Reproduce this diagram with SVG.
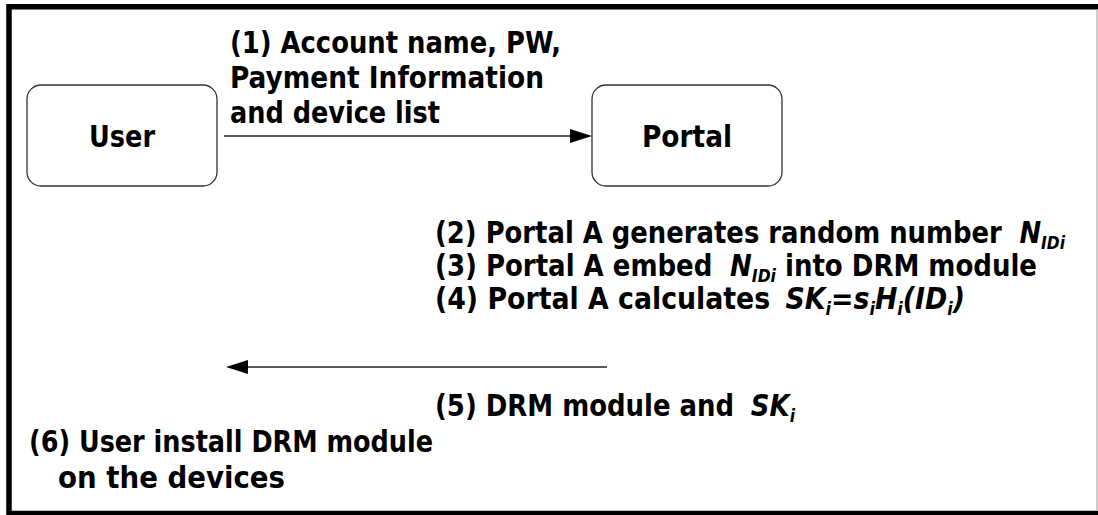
<svg xmlns="http://www.w3.org/2000/svg" width="1098" height="515" viewBox="0 0 1098 515">
  <defs>
    <style>
      .t { font-family: "DejaVu Sans", "Liberation Sans", sans-serif; font-weight: bold; font-size: 30px; font-stretch: condensed; fill: #000; }
      .m { font-style: italic; }
      .sub { font-style: italic; font-size: 18px; }
      .box { fill: #fff; stroke: #333; stroke-width: 1.3; }
      .flow { fill: none; stroke: #222; stroke-width: 1.3; marker-end: url(#head); }
    </style>
    <marker id="head" markerUnits="userSpaceOnUse" markerWidth="22" markerHeight="14" refX="2" refY="7" orient="auto">
      <path d="M0,0 L22,7 L0,14 Z" fill="#000"/>
    </marker>
  </defs>

  <!-- page frame -->
  <rect x="0" y="0" width="1098" height="515" fill="#fff"/>
  <rect x="9" y="6.75" width="1200" height="506.75" fill="none" stroke="#000" stroke-width="5.5"/>
  <line x1="1097" y1="9.5" x2="1097" y2="511" stroke="#bdbdbd" stroke-width="1.5"/>

  <!-- nodes -->
  <g id="user">
    <rect class="box" x="27" y="85" width="190" height="101" rx="14"/>
    <text class="t" x="122" y="147" text-anchor="middle" textLength="66" lengthAdjust="spacingAndGlyphs">User</text>
  </g>
  <g id="portal">
    <rect class="box" x="592" y="85" width="190" height="101" rx="14"/>
    <text class="t" x="687" y="147" text-anchor="middle" textLength="90" lengthAdjust="spacingAndGlyphs">Portal</text>
  </g>

  <!-- connectors -->
  <g id="connectors">
    <line class="flow" x1="224" y1="136" x2="572" y2="136"/>
    <line class="flow" x1="607" y1="367" x2="246" y2="367"/>
  </g>

  <!-- step labels -->
  <g id="step1">
    <text class="t" x="230" y="53" textLength="331" lengthAdjust="spacingAndGlyphs">(1) Account name, PW,</text>
    <text class="t" x="230" y="88" textLength="314" lengthAdjust="spacingAndGlyphs">Payment Information</text>
    <text class="t" x="230" y="123" textLength="210" lengthAdjust="spacingAndGlyphs">and device list</text>
  </g>
  <g id="steps2to4">
    <text class="t" x="435" y="243" textLength="630" lengthAdjust="spacingAndGlyphs">(2) Portal A generates random number <tspan class="m" dx="9">N</tspan><tspan class="sub" dy="6">IDi</tspan></text>
    <text class="t" x="435" y="276" textLength="602" lengthAdjust="spacingAndGlyphs">(3) Portal A embed <tspan class="m" dx="9">N</tspan><tspan class="sub" dy="6">IDi</tspan><tspan dy="-6"> into DRM module</tspan></text>
    <text class="t" x="435" y="309" textLength="530" lengthAdjust="spacingAndGlyphs">(4) Portal A calculates <tspan class="m" dx="6">SK</tspan><tspan class="sub" dy="6">i</tspan><tspan class="m" dy="-6">=s</tspan><tspan class="sub" dy="6">i</tspan><tspan class="m" dy="-6">H</tspan><tspan class="sub" dy="6">i</tspan><tspan class="m" dy="-6">(ID</tspan><tspan class="sub" dy="6">i</tspan><tspan class="m" dy="-6">)</tspan></text>
  </g>
  <g id="step5">
    <text class="t" x="435" y="416" textLength="360" lengthAdjust="spacingAndGlyphs">(5) DRM module and <tspan class="m" dx="8">SK</tspan><tspan class="sub" dy="6">i</tspan></text>
  </g>
  <g id="step6">
    <text class="t" x="29" y="452" textLength="404" lengthAdjust="spacingAndGlyphs">(6) User install DRM module</text>
    <text class="t" x="58" y="488" textLength="227" lengthAdjust="spacingAndGlyphs">on the devices</text>
  </g>
</svg>
